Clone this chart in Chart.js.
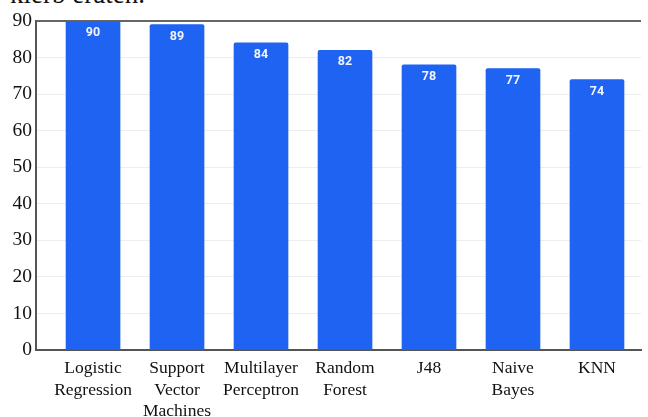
<!DOCTYPE html>
<html>
<head>
<meta charset="utf-8">
<script src="https://cdn.jsdelivr.net/npm/chart.js@4"></script>
<style>
  html, body { margin: 0; padding: 0; background: #fff; }
  #wrap { position: relative; width: 648px; height: 417px; overflow: hidden; }
  #caption { position: absolute; left: 10px; top: -21px; font: 27px "Liberation Serif", "Times New Roman", serif; color: #111; white-space: nowrap; }
  canvas { position: absolute; left: 0; top: 0; }
</style>
</head>
<body>
<div id="wrap">
  <div id="caption">kierb eraten.</div>
  <canvas id="c" width="648" height="417"></canvas>
</div>
<script>
// Classifier names (multi-line tick labels), accuracy values and y ticks
const categories = [
  ["Logistic", "Regression"],
  ["Support", "Vector", "Machines"],
  ["Multilayer", "Perceptron"],
  ["Random", "Forest"],
  ["J48"],
  ["Naive", "Bayes"],
  ["KNN"]
];
const accuracy = [90, 89, 84, 82, 78, 77, 74];
const yTicks = [0, 10, 20, 30, 40, 50, 60, 70, 80, 90];

const BAR_BLUE = "#1f63f3";
const serif = "'Liberation Serif', 'Times New Roman', serif";

// White value labels inside the top of each bar
const valueLabels = {
  id: "valueLabels",
  afterDatasetsDraw(chart) {
    const ctx = chart.ctx;
    const meta = chart.getDatasetMeta(0);
    ctx.save();
    ctx.fillStyle = "#f2f5ff";
    ctx.font = "bold 12.5px Roboto, 'DejaVu Sans', sans-serif";
    ctx.textAlign = "center";
    ctx.textBaseline = "middle";
    meta.data.forEach((bar, i) => {
      ctx.fillText(String(accuracy[i]), bar.x, bar.y + 12);
    });
    ctx.restore();
  }
};

new Chart(document.getElementById("c"), {
  type: "bar",
  data: {
    datasets: [{
      data: accuracy.map((v, i) => ({ x: i, y: v })),
      backgroundColor: BAR_BLUE,
      borderRadius: 2,
      borderSkipped: "bottom",
      barThickness: 54
    }]
  },
  options: {
    responsive: false,
    animation: false,
    layout: { padding: { top: 21, right: 7, left: 0, bottom: 0 } },
    plugins: { legend: { display: false }, tooltip: { enabled: false } },
    scales: {
      x: {
        type: "linear",
        offset: false,
        min: -0.679,
        max: 6.524,
        afterBuildTicks: s => { s.ticks = categories.map((_, i) => ({ value: i })); },
        afterFit: s => { s.height = 67; },
        grid: { display: false, drawTicks: false },
        border: { display: true, color: "#555", width: 2 },
        ticks: {
          autoSkip: false,
          maxRotation: 0,
          padding: 8,
          color: "#111",
          font: { family: serif, size: 17.5, lineHeight: 1.22 },
          callback: v => categories[v]
        }
      },
      y: {
        min: 0,
        max: 90,
        afterBuildTicks: s => { s.ticks = yTicks.map(v => ({ value: v })); },
        afterFit: s => { s.width = 36; },
        grid: {
          drawTicks: false,
          color: c => (c.tick && c.tick.value === 90) ? "#666" : "rgba(0,0,0,0.07)",
          lineWidth: c => (c.tick && c.tick.value === 90) ? 2 : 1
        },
        border: { display: true, color: "#555", width: 2 },
        ticks: {
          padding: 4,
          color: "#111",
          font: { family: serif, size: 19.5 }
        }
      }
    }
  },
  plugins: [valueLabels]
});
</script>
</body>
</html>
